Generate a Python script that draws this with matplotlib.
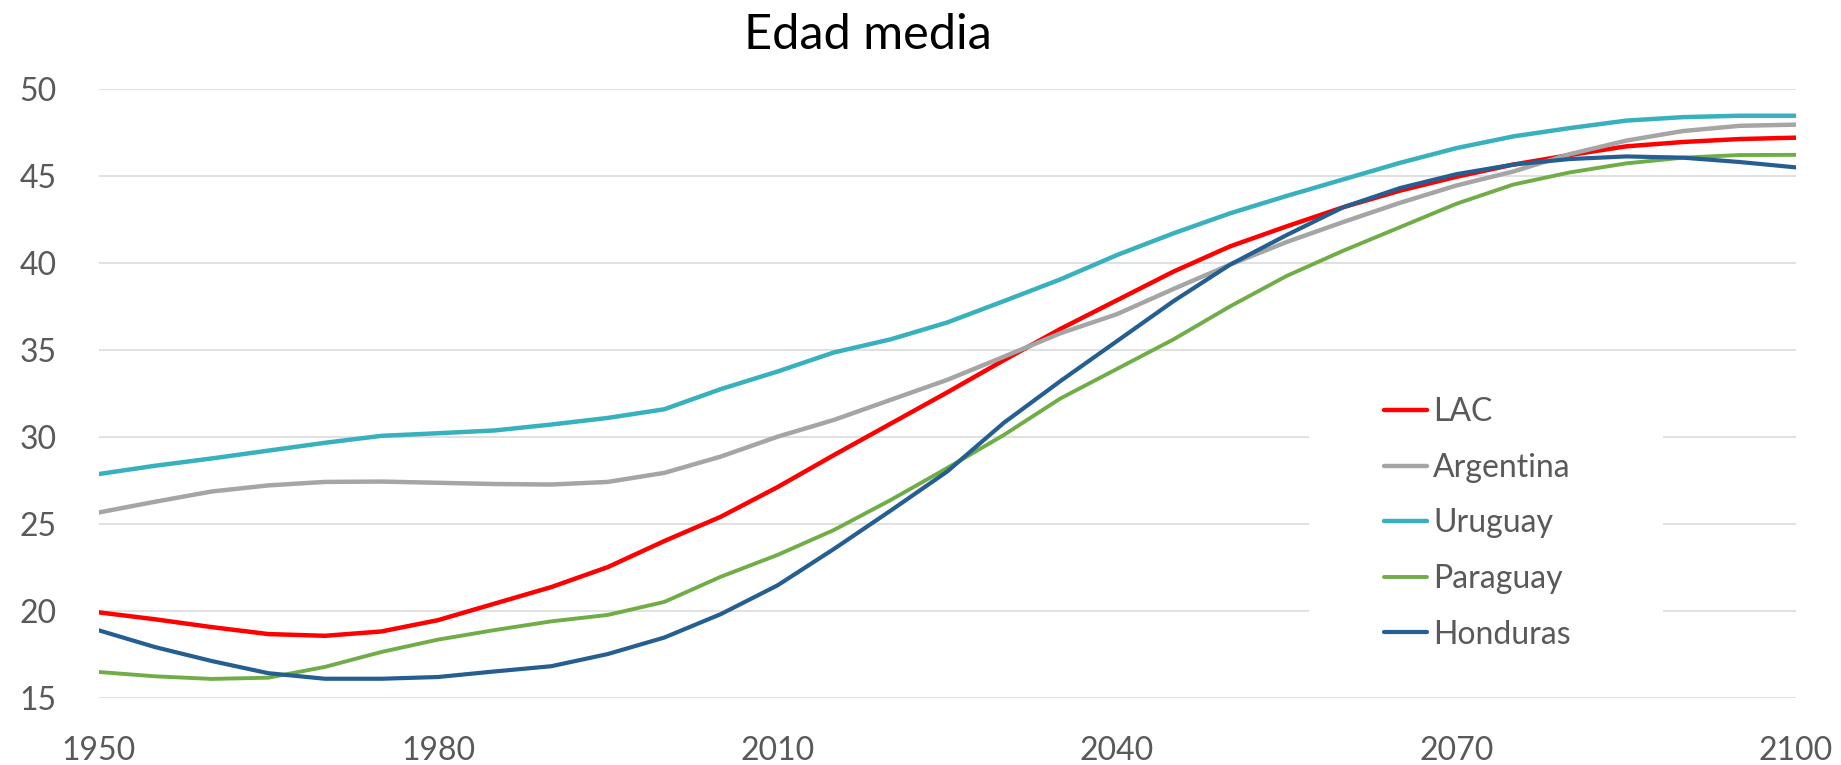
import matplotlib
matplotlib.use('Agg')
import matplotlib.pyplot as plt
from matplotlib.patches import Rectangle

years = list(range(1950, 2101, 5))
lac = [19.9, 19.5, 19.05, 18.65, 18.55, 18.8, 19.45, 20.4, 21.35, 22.5, 24.0,
       25.4, 27.1, 28.95, 30.75, 32.55, 34.4, 36.2, 37.85, 39.5, 40.95, 42.1,
       43.2, 44.15, 44.95, 45.65, 46.2, 46.7, 46.95, 47.12, 47.2]
argentina = [25.64, 26.26, 26.85, 27.2, 27.4, 27.42, 27.35, 27.28, 27.25, 27.4, 27.92,
             28.86, 30.0, 30.97, 32.12, 33.27, 34.6, 35.95, 37.05, 38.5, 39.9, 41.2,
             42.35, 43.45, 44.45, 45.25, 46.25, 47.03, 47.58, 47.88, 47.95]
uruguay = [27.85, 28.33, 28.75, 29.2, 29.65, 30.05, 30.2, 30.36, 30.7, 31.08, 31.58,
           32.74, 33.75, 34.85, 35.6, 36.57, 37.8, 39.05, 40.45, 41.7, 42.85, 43.85,
           44.8, 45.75, 46.6, 47.27, 47.75, 48.18, 48.38, 48.46, 48.46]
paraguay = [16.47, 16.22, 16.07, 16.14, 16.76, 17.62, 18.33, 18.88, 19.38, 19.75, 20.5,
            21.95, 23.2, 24.64, 26.36, 28.2, 30.1, 32.2, 33.9, 35.6, 37.5, 39.25,
            40.7, 42.05, 43.4, 44.5, 45.2, 45.72, 46.05, 46.2, 46.21]
honduras = [18.87, 17.9, 17.1, 16.4, 16.08, 16.08, 16.18, 16.5, 16.8, 17.5, 18.45,
            19.8, 21.45, 23.55, 25.75, 28.0, 30.8, 33.2, 35.5, 37.8, 39.9, 41.6,
            43.2, 44.3, 45.1, 45.65, 45.97, 46.12, 46.05, 45.8, 45.49]

series = [
    ('LAC', lac, '#FF0000', 3.2),
    ('Argentina', argentina, '#A5A5A5', 3.2),
    ('Uruguay', uruguay, '#38B1BE', 3.2),
    ('Paraguay', paraguay, '#70AD47', 2.8),
    ('Honduras', honduras, '#255E91', 3.0),
]

plt.rcParams['font.family'] = ['Lato', 'DejaVu Sans']
grey = '#595959'

fig = plt.figure(figsize=(18.41, 7.65), dpi=100)
ax = fig.add_axes([98.5 / 1841, 0.0882, (1796 - 98.5) / 1841, 0.8837 - 0.0882])

for name, vals, color, lw in series:
    ax.plot(years, vals, color=color, lw=lw, label=name,
            solid_capstyle='round', solid_joinstyle='round', zorder=3)

ax.set_xlim(1950, 2100)
ax.set_ylim(15, 50)
ax.set_xticks(range(1950, 2101, 30))
ax.set_yticks(range(15, 51, 5))
ax.grid(axis='y', color='#D9D9D9', lw=1.1, zorder=0)
ax.set_axisbelow(True)
for s in ax.spines.values():
    s.set_visible(False)
ax.tick_params(axis='both', length=0, labelsize=23, labelcolor=grey)
ax.tick_params(axis='x', pad=28)
ax.tick_params(axis='y', pad=30)

# white box behind the legend hides the gridlines
ax.add_patch(Rectangle((0.713, 0.053), 0.2085, 0.468, transform=ax.transAxes,
                       facecolor='white', edgecolor='none', zorder=1))
leg = ax.legend(loc='center left', bbox_to_anchor=(0.757, 0.286), frameon=False,
                fontsize=23, handlelength=1.36, handletextpad=0.2,
                labelspacing=0.8, borderpad=0, borderaxespad=0)
for t in leg.get_texts():
    t.set_color(grey)

fig.text(868 / 1841, 1 - 35 / 765, 'Edad media', ha='center', va='center',
         fontsize=35, color='black')

fig.savefig('out.png', dpi=100)
